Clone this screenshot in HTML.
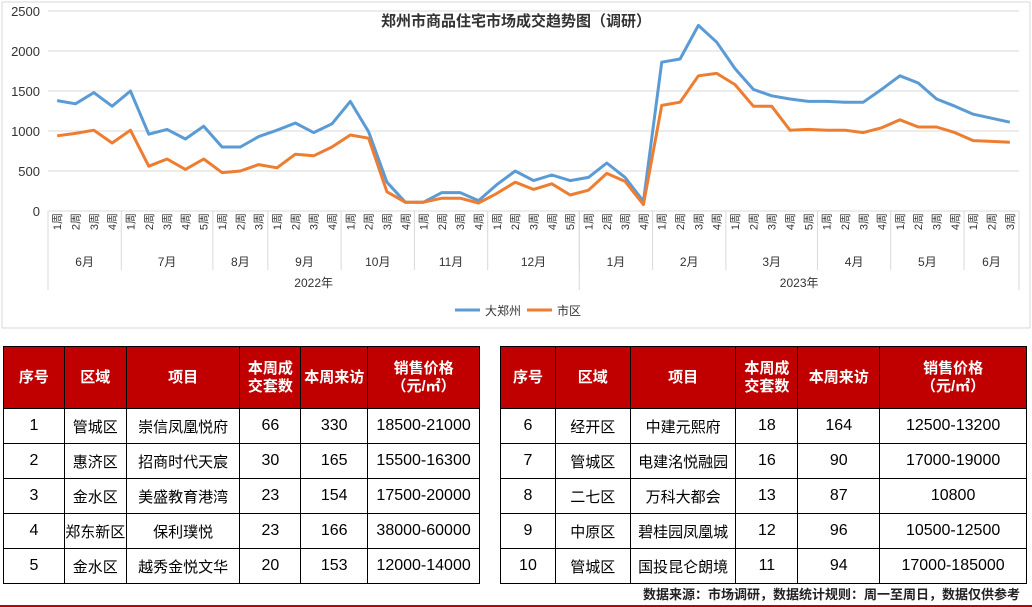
<!DOCTYPE html>
<html><head><meta charset="utf-8">
<style>
body{margin:0;width:1032px;height:607px;background:#fff;font-family:"Liberation Sans","Noto Sans CJK SC",sans-serif;position:relative;overflow:hidden}
table{position:absolute;border-collapse:collapse;top:346px;font-size:15px;text-align:center}
td,th{border:1.5px solid #000;padding:0}
th{background:#c00000;color:#fff;font-weight:bold;height:61px;font-size:15px;line-height:18px}
td{height:34px}
.num{font-size:16px}
#foot{position:absolute;right:12px;top:587px;font-size:13px;font-weight:bold;color:#222;line-height:16px}
#redline{position:absolute;left:0;right:0;top:605px;height:2px;background:#c00000}
</style></head><body>
<svg id="chart" width="1032" height="335" style="position:absolute;left:0;top:0">
<rect x="2" y="2" width="1028" height="326" fill="#fff" stroke="#d9d9d9"/>
<text x="516" y="26" text-anchor="middle" font-size="15" font-weight="bold" fill="#333">郑州市商品住宅市场成交趋势图（调研）</text>
<g id="grid"></g><g id="axes"></g><g id="lines"></g>
<g>
<line x1="455" y1="310" x2="480" y2="310" stroke="#5b9bd5" stroke-width="3"/>
<text x="485" y="315" font-size="12" fill="#333">大郑州</text>
<line x1="527" y1="310" x2="552" y2="310" stroke="#ed7d31" stroke-width="3"/>
<text x="557" y="315" font-size="12" fill="#333">市区</text>
</g>
</svg>
<script>
const months=["6月","7月","8月","9月","10月","11月","12月","1月","2月","3月","4月","5月","6月"];
const weeksPerMonth=[4,5,3,4,4,4,5,4,4,5,4,4,3];
const years=["2022年","2023年"];
const monthsPerYear=[7,6];
const yTicks=[0,500,1000,1500,2000,2500];
const dazhengzhou=[1380,1340,1480,1310,1500,960,1020,900,1060,800,800,930,1010,1100,980,1090,1370,990,360,110,110,230,230,130,330,500,380,450,380,420,600,420,120,1860,1900,2320,2110,1780,1520,1440,1400,1370,1370,1360,1360,1520,1690,1600,1400,1310,1210,1160,1110];
const shiqu=[940,970,1010,850,1010,560,650,520,650,480,500,580,540,710,690,800,950,910,240,110,110,160,160,100,220,360,270,340,200,260,470,370,80,1320,1360,1690,1720,1580,1310,1310,1010,1020,1010,1010,980,1040,1140,1050,1050,980,880,870,860];
const NS="http://www.w3.org/2000/svg";
const X0=48,X1=1019,Y0=211,Y1=11,YMAX=2500;
const N=dazhengzhou.length;
const cw=(X1-X0)/N;
const xs=i=>X0+cw*(i+0.5);
const ys=v=>Y0-(v/YMAX)*(Y0-Y1);
function mk(t,a,p){const e=document.createElementNS(NS,t);for(const k in a)e.setAttribute(k,a[k]);p.appendChild(e);return e;}
const grid=document.getElementById('grid'),axes=document.getElementById('axes'),lines=document.getElementById('lines');
yTicks.forEach(v=>{
 const l=mk('line',{x1:X0,x2:X1,y1:ys(v),y2:ys(v),stroke:'#d9d9d9','stroke-width':1},grid);
 
 
 const t=mk('text',{x:40,y:ys(v)+5,'text-anchor':'end','font-size':13,fill:'#333'},axes);
 t.textContent=v;
 
 
});
let idx=0;
const sep=(x,y2)=>{const l=mk('line',{x1:x,x2:x,y1:Y0,y2:y2,stroke:'#d9d9d9'},axes);};
sep(X0,290);
months.forEach((m,mi)=>{
 const n=weeksPerMonth[mi];
 for(let w=0;w<n;w++){
  const x=xs(idx+w);
  const t=mk('text',{x:0,y:0,'font-size':11,fill:'#333',transform:`translate(${x+4},${Y0+2}) rotate(-90)`,'text-anchor':'end'},axes);
  t.textContent=(w+1)+"周";
  
  
 }
 const cx=X0+cw*(idx+n/2);
 const t=mk('text',{x:cx,y:266,'text-anchor':'middle','font-size':12,fill:'#333'},axes);
 t.textContent=m;
 
 
 idx+=n;
 sep(X0+cw*idx,270);
});
let mIdx=0,wIdx=0;
years.forEach((y,yi)=>{
 let n=0;for(let k=0;k<monthsPerYear[yi];k++)n+=weeksPerMonth[mIdx+k];
 const t=mk('text',{x:X0+cw*(wIdx+n/2),y:287,'text-anchor':'middle','font-size':12,fill:'#333'},axes);
 t.textContent=y;
 
 
 mIdx+=monthsPerYear[yi];wIdx+=n;
 sep(X0+cw*wIdx,290);
});
[[dazhengzhou,'#5b9bd5','line-dazhengzhou'],[shiqu,'#ed7d31','line-shiqu']].forEach(([d,c,n])=>{
 const p=mk('polyline',{points:d.map((v,i)=>xs(i)+','+ys(v)).join(' '),fill:'none',stroke:c,'stroke-width':3,'stroke-linejoin':'round'},lines);
 
 
});
</script>

<table style="left:3px;width:477px">
<colgroup><col style="width:61px"><col style="width:62px"><col style="width:114px"><col style="width:61px"><col style="width:67px"><col style="width:112px"></colgroup>
<tr><th>序号</th><th>区域</th><th>项目</th><th>本周成<br>交套数</th><th>本周来访</th><th>销售价格<br>（元/㎡）</th></tr>
<tr><td class="num">1</td><td>管城区</td><td>崇信凤凰悦府</td><td class="num">66</td><td class="num">330</td><td class="num">18500-21000</td></tr>
<tr><td class="num">2</td><td>惠济区</td><td>招商时代天宸</td><td class="num">30</td><td class="num">165</td><td class="num">15500-16300</td></tr>
<tr><td class="num">3</td><td>金水区</td><td>美盛教育港湾</td><td class="num">23</td><td class="num">154</td><td class="num">17500-20000</td></tr>
<tr><td class="num">4</td><td>郑东新区</td><td>保利璞悦</td><td class="num">23</td><td class="num">166</td><td class="num">38000-60000</td></tr>
<tr><td class="num">5</td><td>金水区</td><td>越秀金悦文华</td><td class="num">20</td><td class="num">153</td><td class="num">12000-14000</td></tr>
</table>

<table style="left:500px;width:527px">
<colgroup><col style="width:55px"><col style="width:75px"><col style="width:106px"><col style="width:62px"><col style="width:82px"><col style="width:147px"></colgroup>
<tr><th>序号</th><th>区域</th><th>项目</th><th>本周成<br>交套数</th><th>本周来访</th><th>销售价格<br>（元/㎡）</th></tr>
<tr><td class="num">6</td><td>经开区</td><td>中建元熙府</td><td class="num">18</td><td class="num">164</td><td class="num">12500-13200</td></tr>
<tr><td class="num">7</td><td>管城区</td><td>电建洺悦融园</td><td class="num">16</td><td class="num">90</td><td class="num">17000-19000</td></tr>
<tr><td class="num">8</td><td>二七区</td><td>万科大都会</td><td class="num">13</td><td class="num">87</td><td class="num">10800</td></tr>
<tr><td class="num">9</td><td>中原区</td><td>碧桂园凤凰城</td><td class="num">12</td><td class="num">96</td><td class="num">10500-12500</td></tr>
<tr><td class="num">10</td><td>管城区</td><td>国投昆仑朗境</td><td class="num">11</td><td class="num">94</td><td class="num">17000-185000</td></tr>
</table>
<div id="foot">数据来源：市场调研，数据统计规则：周一至周日，数据仅供参考</div>
<div id="redline"></div>
</body></html>
